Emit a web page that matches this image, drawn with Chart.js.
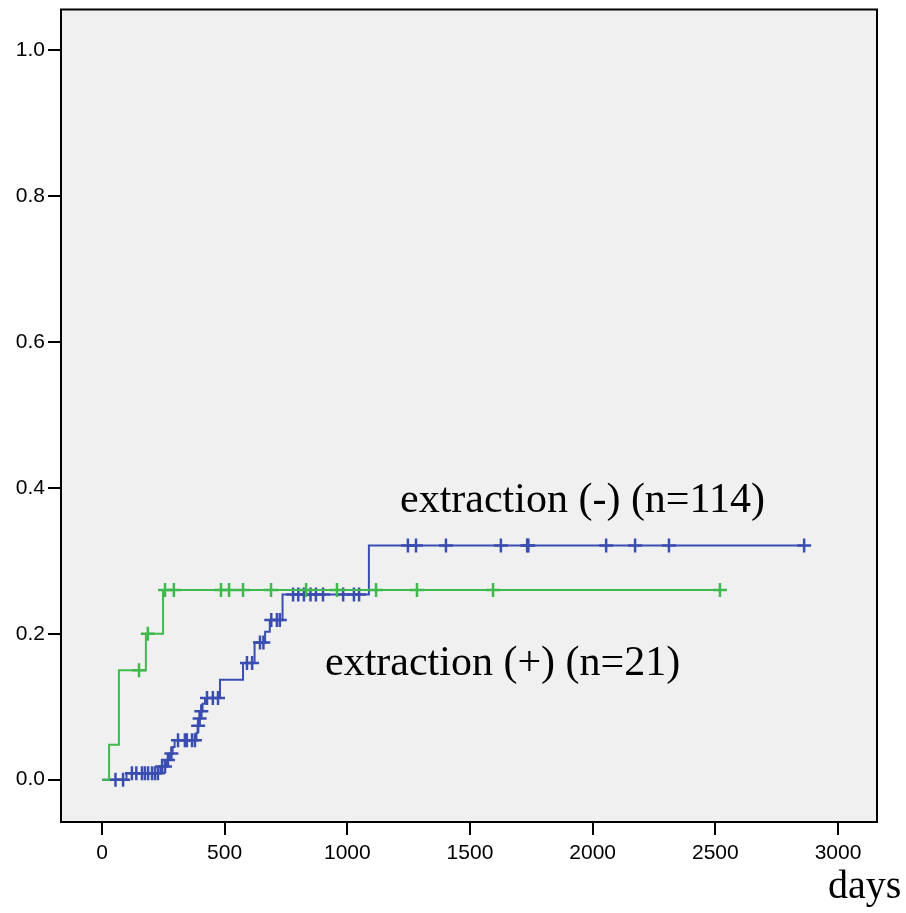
<!DOCTYPE html>
<html>
<head>
<meta charset="utf-8">
<script src="https://cdn.jsdelivr.net/npm/chart.js@4.4.1/dist/chart.umd.min.js"></script>
<style>
  html, body { margin: 0; padding: 0; background: #fff; }
  #wrap { width: 906px; height: 913px; }
</style>
</head>
<body>
<div id="wrap"><canvas id="km" width="906" height="913"></canvas></div>
<script>
// ---------- DATA ----------
// extraction (+) (n=21): [days, cumulative incidence] at each event
const greenSteps = [[0, 0], [29, 0.048], [69, 0.15], [179, 0.20], [249, 0.26]];
const greenCensored = [151, 187, 257, 293, 485, 518, 575, 689, 832, 958, 1117, 1284, 1594, 2519];

// extraction (-) (n=114)
const blueSteps = [
  [0, 0], [100, 0.009], [238, 0.018], [262, 0.027], [275, 0.036], [288, 0.045],
  [296, 0.054], [385, 0.064], [390, 0.074], [396, 0.084], [401, 0.094], [410, 0.104],
  [420, 0.112], [481, 0.137], [575, 0.160], [622, 0.188], [665, 0.203], [684, 0.219],
  [736, 0.254], [1088, 0.321]
];
const blueCensored = [
  55, 86, 122, 140, 163, 175, 188, 204, 216, 228, 245, 257, 269, 283,
  310, 338, 346, 367, 379, 392, 398, 405, 428, 452, 473, 591, 612, 644, 658,
  690, 713, 725, 779, 800, 823, 850, 872, 901, 983, 1027, 1048,
  1247, 1280, 1402, 1626, 1733, 1738, 2055, 2173, 2311, 2862
];

const xTicks = [0, 500, 1000, 1500, 2000, 2500, 3000];
const yTicks = [0, 0.2, 0.4, 0.6, 0.8, 1.0];

const greenColor = "#3dba4b";
const blueColor = "#3a4db0";

// ---------- HELPERS ----------
function valueAt(steps, t) {
  let v = 0;
  for (const [x, y] of steps) if (x <= t) v = y;
  return v;
}

function curvePoints(steps, censored) {
  const pts = steps.map(([x, y]) => ({ x, y }));
  const end = censored[censored.length - 1];
  pts.push({ x: end, y: valueAt(steps, end) });
  return pts;
}

function censorPoints(steps, censored) {
  return censored.map(t => ({ x: t, y: valueAt(steps, t) }));
}

// ---------- PLUGINS ----------
const plotFrame = {
  id: "plotFrame",
  beforeDatasetsDraw(chart) {
    const { ctx, chartArea: a } = chart;
    ctx.save();
    ctx.fillStyle = "#f0f0f0";
    ctx.fillRect(a.left, a.top, a.right - a.left, a.bottom - a.top);
    ctx.restore();
  },
  afterDraw(chart) {
    const { ctx, chartArea: a } = chart;
    ctx.save();
    ctx.strokeStyle = "#000";
    ctx.lineWidth = 2;
    ctx.strokeRect(a.left, a.top, a.right - a.left, a.bottom - a.top);

    ctx.fillStyle = "#000";
    ctx.textBaseline = "alphabetic";
    ctx.font = "42px 'Liberation Serif', 'Times New Roman', serif";
    ctx.fillText("extraction (-) (n=114)", 400, 512);
    ctx.fillText("extraction (+) (n=21)", 325, 675);
    ctx.font = "40px 'Liberation Serif', 'Times New Roman', serif";
    ctx.fillText("days", 828, 898);
    ctx.restore();
  }
};

// ---------- CHART ----------
const tickFont = { family: "'Liberation Sans', Arial, sans-serif", size: 21 };

new Chart(document.getElementById("km"), {
  type: "line",
  data: {
    datasets: [
      {
        data: curvePoints(greenSteps, greenCensored),
        borderColor: greenColor, borderWidth: 2, stepped: "before",
        pointRadius: 0, fill: false
      },
      {
        type: "scatter",
        data: censorPoints(greenSteps, greenCensored),
        pointStyle: "cross", pointRadius: 7, borderColor: greenColor,
        pointBorderWidth: 2.5, showLine: false
      },
      {
        data: curvePoints(blueSteps, blueCensored),
        borderColor: blueColor, borderWidth: 2, stepped: "before",
        pointRadius: 0, fill: false
      },
      {
        type: "scatter",
        data: censorPoints(blueSteps, blueCensored),
        pointStyle: "cross", pointRadius: 7, borderColor: blueColor,
        pointBorderWidth: 2.5, showLine: false
      }
    ]
  },
  options: {
    responsive: false,
    animation: false,
    devicePixelRatio: 1,
    layout: { padding: { top: 9, right: 29, left: 0, bottom: 0 } },
    plugins: { legend: { display: false }, tooltip: { enabled: false } },
    scales: {
      x: {
        type: "linear",
        min: -167, max: 3159,
        afterBuildTicks: s => { s.ticks = xTicks.map(v => ({ value: v })); },
        afterFit: s => { s.height = 91; s.paddingLeft = 0; s.paddingRight = 0; },
        border: { display: false },
        grid: { drawOnChartArea: false, drawTicks: true, tickLength: 13, color: "#000", tickColor: "#000", lineWidth: 2 },
        ticks: { color: "#000", font: tickFont, padding: 6, maxRotation: 0, autoSkip: false, callback: v => String(v) }
      },
      y: {
        type: "linear",
        min: -0.058, max: 1.056,
        afterBuildTicks: s => { s.ticks = yTicks.map(v => ({ value: v })); },
        afterFit: s => { s.width = 61; s.paddingTop = 0; s.paddingBottom = 0; },
        border: { display: false },
        grid: { drawOnChartArea: false, drawTicks: true, tickLength: 13, color: "#000", tickColor: "#000", lineWidth: 2 },
        ticks: { color: "#000", font: tickFont, padding: 3, callback: v => v.toFixed(1), autoSkip: false }
      }
    }
  },
  plugins: [plotFrame]
});
</script>
</body>
</html>
